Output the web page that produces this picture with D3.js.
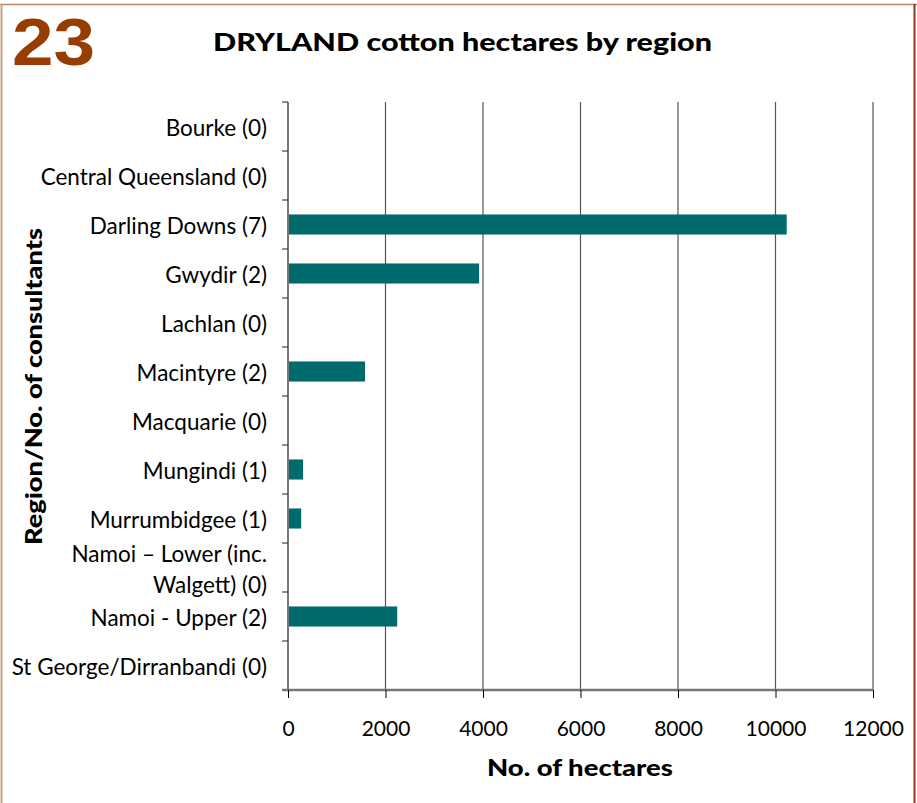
<!DOCTYPE html>
<html>
<head>
<meta charset="utf-8">
<script src="https://cdn.jsdelivr.net/npm/d3@7"></script>
<style>
  body { margin: 0; background: #fff; }
  svg { display: block; }
  text { font-family: Lato, 'Open Sans', sans-serif; fill: #000; }
</style>
</head>
<body>
<div id="chart"></div>
<script>
const regions = [
  ['Bourke (0)'],
  ['Central Queensland (0)'],
  ['Darling Downs (7)'],
  ['Gwydir (2)'],
  ['Lachlan (0)'],
  ['Macintyre (2)'],
  ['Macquarie  (0)'],
  ['Mungindi (1)'],
  ['Murrumbidgee (1)'],
  ['Namoi \u2013 Lower (inc.', 'Walgett) (0)'],
  ['Namoi - Upper (2)'],
  ['St George/Dirranbandi (0)']
]
const hectares = [0, 0, 10230, 3920, 0, 1580, 0, 310, 270, 0, 2240, 0]
const xTicks = [0, 2000, 4000, 6000, 8000, 10000, 12000]

const W = 917, H = 803
const margin = { top: 102, left: 288, right: 44, bottom: 113 }
const width = W - margin.left - margin.right
const height = H - margin.top - margin.bottom

const svg = d3.select('#chart').append('svg')
    .attr('width', W)
    .attr('height', H)

// frame
svg.append('line').attr('x1', 0).attr('x2', W).attr('y1', 4.5).attr('y2', 4.5)
    .attr('stroke', '#b98a6a').attr('stroke-width', 1.5)
svg.append('line').attr('x1', 1.5).attr('x2', 1.5).attr('y1', 4).attr('y2', H)
    .attr('stroke', '#c9a283').attr('stroke-width', 2)
svg.append('line').attr('x1', 914.5).attr('x2', 914.5).attr('y1', 4).attr('y2', H)
    .attr('stroke', '#8a3a12').attr('stroke-width', 2)

// number + title
svg.append('text')
    .attr('x', 12).attr('y', 65)
    .attr('textLength', 83).attr('lengthAdjust', 'spacingAndGlyphs')
    .style('font-family', "'Liberation Sans', Arial, sans-serif")
    .style('font-weight', 'bold').style('font-size', '66px')
    .style('fill', '#973d02')
    .text('23')

svg.append('text')
    .attr('x', 213).attr('y', 51)
    .attr('textLength', 499).attr('lengthAdjust', 'spacingAndGlyphs')
    .style('font-weight', '900').style('font-size', '25px')
    .text('DRYLAND cotton hectares by region')

const g = svg.append('g').attr('transform', 'translate(' + margin.left + ',' + margin.top + ')')

const x = d3.scaleLinear().domain([0, 12000]).range([0, width])
const y = d3.scaleBand().domain(d3.range(regions.length)).range([0, height]).paddingInner(0.59).paddingOuter(0.295)
const yb = d3.scaleBand().domain(d3.range(regions.length)).range([0, height])

// gridlines
g.append('g')
    .selectAll('line')
    .data(xTicks.slice(1))
    .enter().append('line')
    .attr('x1', d => x(d)).attr('x2', d => x(d))
    .attr('y1', 0).attr('y2', height)
    .attr('stroke', '#555').attr('stroke-width', 1.2)

// bars
g.append('g')
    .selectAll('rect')
    .data(hectares)
    .enter().append('rect')
    .attr('x', 0)
    .attr('y', (d, i) => y(i))
    .attr('width', d => x(d))
    .attr('height', y.bandwidth())
    .attr('fill', '#006a6d')

// y axis
const yTickPos = d3.range(regions.length + 1).map(i => i * yb.step())
g.append('line').attr('x1', 0).attr('x2', 0).attr('y1', 0).attr('y2', height)
    .attr('stroke', '#777').attr('stroke-width', 2)
g.append('g')
    .selectAll('line')
    .data(yTickPos)
    .enter().append('line')
    .attr('x1', -6).attr('x2', 0)
    .attr('y1', d => d).attr('y2', d => d)
    .attr('stroke', '#222').attr('stroke-width', 1)

const labels = g.append('g')
labels.selectAll('text')
    .data(regions)
    .enter().append('text')
    .attr('x', -21)
    .attr('y', (d, i) => yb(i) + yb.bandwidth() / 2 + 2)
    .attr('text-anchor', 'end')
    .style('font-size', '22.5px')
    .each(function (d) {
        const t = d3.select(this)
        const off = -(d.length - 1) * 31 / 2
        d.forEach((line, k) => {
            t.append('tspan')
                .attr('x', -21)
                .attr('y', +t.attr('y') + off + k * 31)
                .attr('dy', '0.35em')
                .text(line)
        })
    })

// x axis
const xAxis = g.append('g')
    .attr('transform', 'translate(0,' + height + ')')
    .call(d3.axisBottom(x).tickValues(xTicks).tickSize(8).tickPadding(23).tickFormat(d3.format('d')))
xAxis.select('.domain').attr('stroke', '#777').attr('stroke-width', 2.5)
    .attr('d', 'M-6,0H' + width)
xAxis.selectAll('.tick line').attr('stroke', '#000')
xAxis.selectAll('.tick text')
    .style('font-family', "Lato, 'Open Sans', sans-serif")
    .style('font-size', '21px').attr('fill', '#000')

// axis titles
svg.append('text')
    .attr('x', 487).attr('y', 776)
    .attr('textLength', 186).attr('lengthAdjust', 'spacingAndGlyphs')
    .style('font-weight', '900').style('font-size', '22px')
    .text('No. of hectares')

svg.append('text')
    .attr('transform', 'translate(42,545) rotate(-90)')
    .attr('textLength', 317).attr('lengthAdjust', 'spacingAndGlyphs')
    .style('font-weight', '900').style('font-size', '22px')
    .text('Region/No. of consultants')
</script>
</body>
</html>
